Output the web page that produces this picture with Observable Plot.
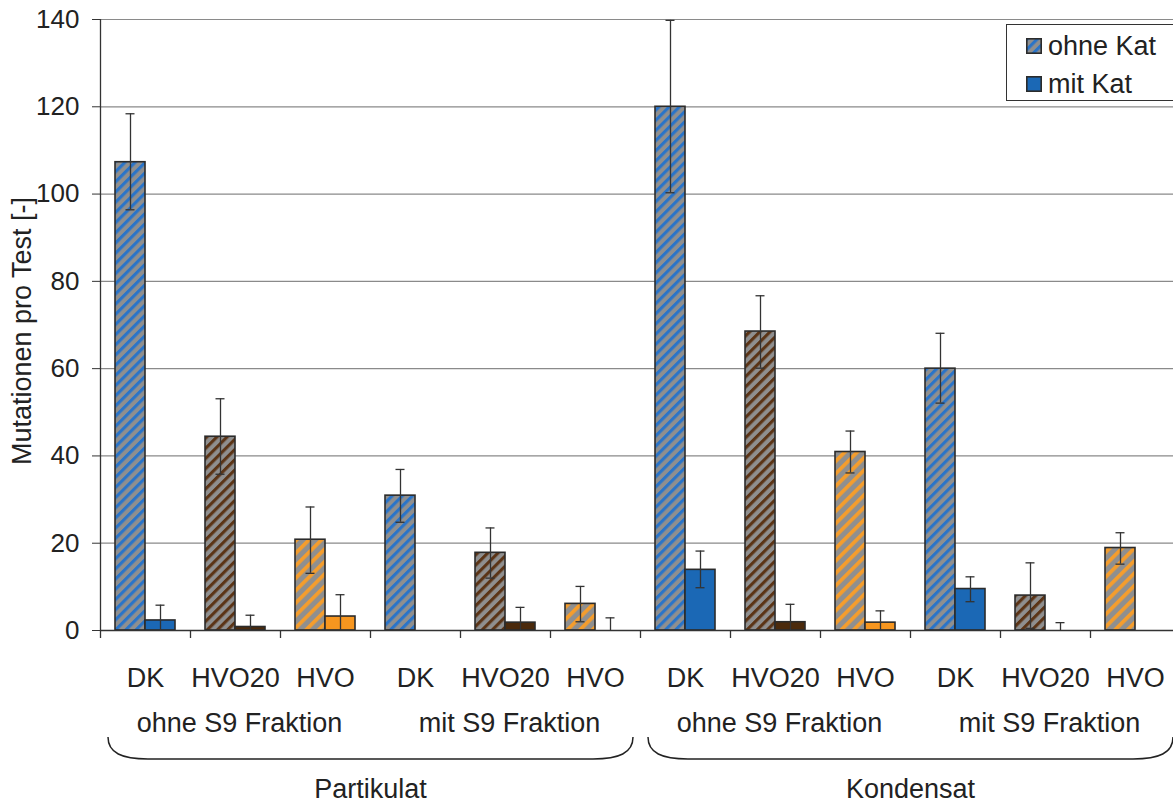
<!DOCTYPE html>
<html>
<head>
<meta charset="utf-8">
<script src="https://cdn.jsdelivr.net/npm/d3@7"></script>
<script src="https://cdn.jsdelivr.net/npm/@observablehq/plot@0.6"></script>
<style>
  html, body { margin: 0; padding: 0; background: #fff; overflow: hidden; width: 1173px; height: 803px; }
  #wrap { position: relative; width: 1180px; height: 803px; font-family: "Liberation Sans", Arial, Helvetica, sans-serif; color: #222; }
  #legend { position: absolute; left: 1006px; top: 24px; width: 200px; height: 77px; border: 1px solid #333; background: #fff; box-sizing: border-box; font-size: 27px; }
  .item { position: absolute; left: 19px; height: 30px; display: flex; align-items: center; }
  .item svg { margin-right: 6px; }
</style>
</head>
<body>
<div id="wrap">
  <svg width="0" height="0" style="position:absolute">
    <defs>
      <pattern id="h-DK" patternUnits="userSpaceOnUse" width="7.2" height="7.2" patternTransform="rotate(45)">
        <rect width="7.2" height="7.2" fill="#8f8f8f"></rect>
        <rect width="3.1" height="7.2" fill="#2a74c8"></rect>
      </pattern>
      <pattern id="h-HVO20" patternUnits="userSpaceOnUse" width="7.2" height="7.2" patternTransform="rotate(45)">
        <rect width="7.2" height="7.2" fill="#8f8f8f"></rect>
        <rect width="3.1" height="7.2" fill="#5b3416"></rect>
      </pattern>
      <pattern id="h-HVO" patternUnits="userSpaceOnUse" width="8.8" height="8.8" patternTransform="rotate(45)">
        <rect width="8.8" height="8.8" fill="#8f8f8f"></rect>
        <rect width="3.7" height="8.8" fill="#f59d2c"></rect>
      </pattern>
    </defs>
  </svg>
  <div id="chart"></div>
  <div id="legend"></div>
</div>
<script>
// ---- data ----
const fuels = ["DK", "HVO20", "HVO", "DK", "HVO20", "HVO", "DK", "HVO20", "HVO", "DK", "HVO20", "HVO"];
const fractions = ["ohne S9 Fraktion", "ohne S9 Fraktion", "ohne S9 Fraktion",
                   "mit S9 Fraktion", "mit S9 Fraktion", "mit S9 Fraktion",
                   "ohne S9 Fraktion", "ohne S9 Fraktion", "ohne S9 Fraktion",
                   "mit S9 Fraktion", "mit S9 Fraktion", "mit S9 Fraktion"];
const samples = ["Partikulat", "Partikulat", "Partikulat", "Partikulat", "Partikulat", "Partikulat",
                 "Kondensat", "Kondensat", "Kondensat", "Kondensat", "Kondensat", "Kondensat"];

const ohneKat   = [107.3, 44.4, 20.8, 30.9, 17.8, 6.1, 120.0, 68.5, 40.9, 60.0, 8.0, 18.9];
const ohneKatLo = [96.4, 35.8, 13.1, 24.8, 12.0, 2.0, 100.3, 60.1, 36.1, 52.1, 0.5, 15.2];
const ohneKatHi = [118.4, 53.1, 28.3, 36.9, 23.5, 10.1, 139.8, 76.7, 45.7, 68.1, 15.5, 22.4];

const mitKat   = [2.3, 0.8, 3.2, 0, 1.8, 0, 13.9, 1.9, 1.8, 9.5, 0, 0];
const mitKatLo = [0, 0, 0, null, 0, 0, 9.8, 0, 0, 6.6, 0, null];
const mitKatHi = [5.8, 3.5, 8.2, null, 5.3, 2.9, 18.2, 6.0, 4.5, 12.3, 1.8, null];

const yTicks = [0, 20, 40, 60, 80, 100, 120, 140];
const seriesLabels = ["ohne Kat", "mit Kat"];
const yLabel = "Mutationen pro Test [-]";

// ---- styles ----
const hatch = {DK: "url(#h-DK)", HVO20: "url(#h-HVO20)", HVO: "url(#h-HVO)"};
const solid = {DK: "#1b68b5", HVO20: "#4b2a0c", HVO: "#f7961f"};
const ink = "#2b2b2b";
const fs = 27;

const W = 1180, H = 803;
const M = {top: 19, right: 0, bottom: 173, left: 100};
const gids = fuels.map((_, i) => String(i));
const bw = (W - M.left - M.right) / gids.length;
const cap = 4.5;

const rows = gids.map((g, i) => ({
  g, fuel: fuels[i], fraction: fractions[i], sample: samples[i],
  ohne: ohneKat[i], ohneLo: ohneKatLo[i], ohneHi: ohneKatHi[i],
  mit: mitKat[i], mitLo: mitKatLo[i], mitHi: mitKatHi[i]
}));

function runs(keyFn, labelFn) {
  const out = [];
  rows.forEach((d, i) => {
    const k = keyFn(d), last = out[out.length - 1];
    if (last && last.key === k) last.end = i;
    else out.push({key: k, label: labelFn(d), start: i, end: i});
  });
  return out;
}
const fractionRuns = runs(d => d.sample + "|" + d.fraction, d => d.fraction);
const sampleRuns = runs(d => d.sample, d => d.sample);

function braces(index, scales, values, dims) {
  const x = scales.x;
  const b = x.bandwidth ? x.bandwidth() : bw;
  const g = d3.create("svg:g").attr("fill", "none").attr("stroke", "#222").attr("stroke-width", 1.5);
  const y0 = dims.height - dims.marginBottom + 107;
  const y1 = y0 + 22;
  for (const r of sampleRuns) {
    const xa = x(gids[r.start]) + 8;
    const xb = x(gids[r.end]) + b - 7;
    g.append("path").attr("d",
      `M${xa},${y0} C${xa},${y0 + 16} ${xa + 14},${y1} ${xa + 40},${y1} L${xb - 40},${y1} C${xb - 14},${y1} ${xb},${y0 + 16} ${xb},${y0}`);
  }
  return g.node();
}

const chart = Plot.plot({
  width: W, height: H,
  marginTop: M.top, marginRight: M.right, marginBottom: M.bottom, marginLeft: M.left,
  style: {fontFamily: "'Liberation Sans', Arial, Helvetica, sans-serif", fontSize: fs + "px", color: "#222", background: "transparent", overflow: "visible"},
  x: {type: "band", domain: gids, padding: 0, axis: null},
  y: {domain: [0, 140]},
  color: {type: "identity"},
  marks: [
    Plot.ruleY(yTicks.filter(v => v > 0), {stroke: "#8a8a8a", strokeWidth: 1.2}),
    Plot.barY(rows, {x: "g", y: "ohne", fill: d => hatch[d.fuel], stroke: ink, strokeWidth: 1.6, insetLeft: bw / 6, insetRight: bw / 2}),
    Plot.barY(rows.filter(d => d.mit > 0), {x: "g", y: "mit", fill: d => solid[d.fuel], stroke: ink, strokeWidth: 1.6, insetLeft: bw / 2, insetRight: bw / 6}),
    // error bars, ohne Kat
    Plot.ruleX(rows, {x: "g", y1: "ohneLo", y2: "ohneHi", dx: -bw / 6, stroke: "#333", strokeWidth: 1.3}),
    Plot.tickY(rows, {x: "g", y: "ohneHi", stroke: "#333", strokeWidth: 1.3, insetLeft: bw / 3 - cap, insetRight: 2 * bw / 3 - cap}),
    Plot.tickY(rows.filter(d => d.ohneLo > 0), {x: "g", y: "ohneLo", stroke: "#333", strokeWidth: 1.3, insetLeft: bw / 3 - cap, insetRight: 2 * bw / 3 - cap}),
    // error bars, mit Kat
    Plot.ruleX(rows.filter(d => d.mitHi != null), {x: "g", y1: "mitLo", y2: "mitHi", dx: bw / 6, stroke: "#333", strokeWidth: 1.3}),
    Plot.tickY(rows.filter(d => d.mitHi != null), {x: "g", y: "mitHi", stroke: "#333", strokeWidth: 1.3, insetLeft: 2 * bw / 3 - cap, insetRight: bw / 3 - cap}),
    Plot.tickY(rows.filter(d => d.mitLo > 0), {x: "g", y: "mitLo", stroke: "#333", strokeWidth: 1.3, insetLeft: 2 * bw / 3 - cap, insetRight: bw / 3 - cap}),
    // axes
    Plot.ruleX([gids[0]], {x: d => d, dx: -bw / 2, stroke: "#333", strokeWidth: 1.3}),
    Plot.ruleY([0], {stroke: "#333", strokeWidth: 1.3}),
    Plot.ruleX(gids, {x: d => d, y1: 0, y2: 0, insetBottom: -8, dx: -bw / 2, stroke: "#333", strokeWidth: 1.3}),
    Plot.axisY({ticks: yTicks, tickSize: 8, tickPadding: 13, fontSize: 26, stroke: "#333", label: null}),
    Plot.text([yLabel], {text: d => d, frameAnchor: "left", textAnchor: "middle", lineAnchor: "middle", rotate: -90, dx: -78, dy: 6, fontSize: fs, fill: "#222"}),
    // category labels
    Plot.text(rows, {x: "g", text: "fuel", frameAnchor: "bottom", lineAnchor: "middle", dy: 47.5, fontSize: fs, fill: "#222"}),
    Plot.text(fractionRuns, {x: r => gids[(r.start + r.end) / 2], text: "label", frameAnchor: "bottom", lineAnchor: "middle", dy: 92.5, dx: 4, fontSize: fs, fill: "#222"}),
    braces,
    Plot.text(sampleRuns, {x: r => gids[Math.ceil((r.start + r.end) / 2)], text: "label", frameAnchor: "bottom", lineAnchor: "middle", dy: 158.5, dx: -bw / 2, fontSize: fs, fill: "#222"})
  ]
});
document.getElementById("chart").appendChild(chart);

// legend
const legend = document.getElementById("legend");
const swatchFills = [hatch.DK, solid.DK];
seriesLabels.forEach((label, i) => {
  const item = document.createElement("div");
  item.className = "item";
  item.style.top = (6 + i * 38) + "px";
  item.innerHTML = `<svg width="16" height="16"><rect x="0.8" y="0.8" width="14.4" height="14.4" fill="${swatchFills[i]}" stroke="${ink}" stroke-width="1.6"></rect></svg><span>${label}</span>`;
  legend.appendChild(item);
});
</script>
</body>
</html>
